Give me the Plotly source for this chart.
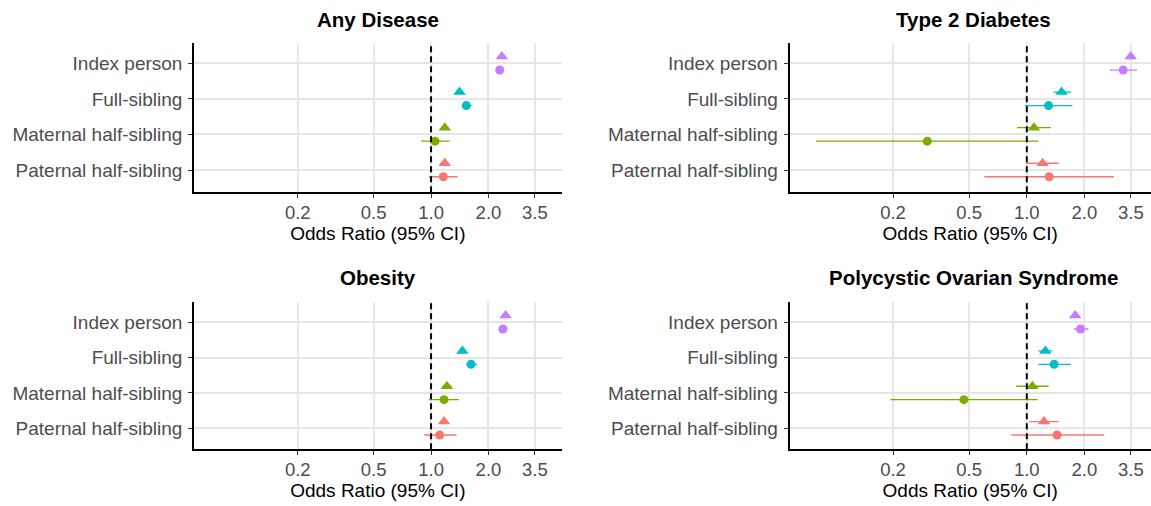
import plotly.graph_objects as go

categories = ["Index person", "Full-sibling", "Maternal half-sibling", "Paternal half-sibling"]
colors = ["#C77CFF", "#00BFC4", "#7CAE00", "#F8766D"]
panel_titles = ["Any Disease", "Type 2 Diabetes", "Obesity", "Polycystic Ovarian Syndrome"]
x_tickvals = [0.2, 0.5, 1.0, 2.0, 3.5]
x_ticktext = ["0.2", "0.5", "1.0", "2.0", "3.5"]

# Any Disease
ad_tri_or = [2.35, 1.41, 1.18, 1.18]
ad_tri_lo = [2.30, 1.38, 1.13, 1.12]
ad_tri_hi = [2.40, 1.44, 1.23, 1.24]
ad_cir_or = [2.29, 1.53, 1.05, 1.16]
ad_cir_lo = [2.24, 1.45, 0.886, 0.973]
ad_cir_hi = [2.34, 1.63, 1.25, 1.38]

# Type 2 Diabetes
t2_tri_or = [3.49, 1.52, 1.09, 1.21]
t2_tri_lo = [3.40, 1.38, 0.89, 0.99]
t2_tri_hi = [3.58, 1.70, 1.34, 1.47]
t2_cir_or = [3.19, 1.30, 0.302, 1.31]
t2_cir_lo = [2.72, 0.98, 0.0793, 0.60]
t2_cir_hi = [3.78, 1.73, 1.15, 2.85]

# Obesity
ob_tri_or = [2.46, 1.46, 1.21, 1.17]
ob_tri_lo = [2.42, 1.43, 1.15, 1.12]
ob_tri_hi = [2.50, 1.49, 1.28, 1.22]
ob_cir_or = [2.38, 1.62, 1.17, 1.11]
ob_cir_lo = [2.34, 1.53, 0.973, 0.92]
ob_cir_hi = [2.42, 1.74, 1.40, 1.36]

# Polycystic Ovarian Syndrome
pc_tri_or = [1.79, 1.25, 1.07, 1.23]
pc_tri_lo = [1.72, 1.15, 0.88, 1.03]
pc_tri_hi = [1.86, 1.36, 1.30, 1.47]
pc_cir_or = [1.91, 1.39, 0.469, 1.44]
pc_cir_lo = [1.76, 1.15, 0.194, 0.83]
pc_cir_hi = [2.10, 1.70, 1.14, 2.54]

panels = [
    (ad_tri_or, ad_tri_lo, ad_tri_hi, ad_cir_or, ad_cir_lo, ad_cir_hi),
    (t2_tri_or, t2_tri_lo, t2_tri_hi, t2_cir_or, t2_cir_lo, t2_cir_hi),
    (ob_tri_or, ob_tri_lo, ob_tri_hi, ob_cir_or, ob_cir_lo, ob_cir_hi),
    (pc_tri_or, pc_tri_lo, pc_tri_hi, pc_cir_or, pc_cir_lo, pc_cir_hi),
]

W, H = 1151, 506
FONT = "Liberation Sans, Arial, Helvetica, sans-serif"

# layout geometry (pixels)
x_doms = [(194, 561.7), (789.5, 1151), (194, 561.7), (789.5, 1151)]
x_ranges = [(-1.243, 0.685), (-1.24, 0.649), (-1.243, 0.685), (-1.24, 0.649)]
y_doms = [(43.3, 192.3), (43.3, 192.3), (301.7, 449.3), (301.7, 449.3)]
y_ranges = [(0.373, 4.562), (0.373, 4.562), (0.406, 4.583), (0.406, 4.583)]
title_y = [19, 19, 277, 277]

n = len(categories)
ypos = [n - i for i in range(n)]
dodge = 0.19

fig = go.Figure()
layout = {}
shapes = []
annotations = []
for p, (tor, tlo, thi, cor, clo, chi) in enumerate(panels):
    ax = "" if p == 0 else str(p + 1)
    xa, ya = "x" + ax, "y" + ax
    for i in range(n):
        fig.add_trace(go.Scatter(
            x=[cor[i]], y=[ypos[i] - dodge], xaxis=xa, yaxis=ya, mode="markers",
            marker=dict(symbol="circle", size=9, color=colors[i]),
            error_x=dict(type="data", symmetric=False, array=[chi[i] - cor[i]],
                         arrayminus=[cor[i] - clo[i]], color=colors[i], thickness=1.3, width=0),
            showlegend=False, hoverinfo="x+y"))
        fig.add_trace(go.Scatter(
            x=[tor[i]], y=[ypos[i] + dodge], xaxis=xa, yaxis=ya, mode="markers",
            marker=dict(symbol="triangle-up", size=11, color=colors[i]),
            error_x=dict(type="data", symmetric=False, array=[thi[i] - tor[i]],
                         arrayminus=[tor[i] - tlo[i]], color=colors[i], thickness=1.3, width=0),
            showlegend=False, hoverinfo="x+y"))
    d0, d1 = x_doms[p]
    yd0, yd1 = y_doms[p]
    layout["xaxis" + ax] = dict(
        type="log", domain=[d0 / W, d1 / W], range=list(x_ranges[p]), anchor=ya,
        tickvals=x_tickvals, ticktext=x_ticktext, showgrid=True, gridcolor="#E6E6E6", gridwidth=1.7,
        showline=True, linecolor="black", linewidth=1.5, ticks="outside", ticklen=4,
        tickcolor="#333333", tickwidth=1.2, zeroline=False, ticklabelstandoff=-1,
        tickfont=dict(family=FONT, size=18.5, color="#4D4D4D"),
        title=dict(text="Odds Ratio (95% CI)", font=dict(family=FONT, size=19, color="black"), standoff=4),
    )
    layout["yaxis" + ax] = dict(
        domain=[1 - yd1 / H, 1 - yd0 / H], range=list(y_ranges[p]), anchor=xa,
        tickvals=ypos, ticktext=categories, showgrid=True, gridcolor="#E6E6E6", gridwidth=1.7,
        showline=True, linecolor="black", linewidth=1.5, ticks="outside", ticklen=4,
        tickcolor="#333333", tickwidth=1.2, zeroline=False, ticklabelstandoff=2,
        tickfont=dict(family=FONT, size=19, color="#4D4D4D"),
    )
    shapes.append(dict(type="line", xref=xa, yref=ya + " domain", x0=1, x1=1, y0=0, y1=1,
                       line=dict(color="black", width=2, dash="6px,4px"), layer="above"))
    annotations.append(dict(text="<b>" + panel_titles[p] + "</b>", xref="paper", yref="paper",
                            x=(d0 + d1) / 2 / W if p % 2 == 0 else (d0 + d0 + 367.7) / 2 / W,
                            y=1 - title_y[p] / H, xanchor="center", yanchor="middle",
                            showarrow=False, font=dict(family=FONT, size=20.5, color="black")))

fig.update_layout(width=W, height=H, margin=dict(l=0, r=0, t=0, b=0),
                  plot_bgcolor="white", paper_bgcolor="white",
                  shapes=shapes, annotations=annotations, showlegend=False, **layout)
fig.write_html("out.html")
